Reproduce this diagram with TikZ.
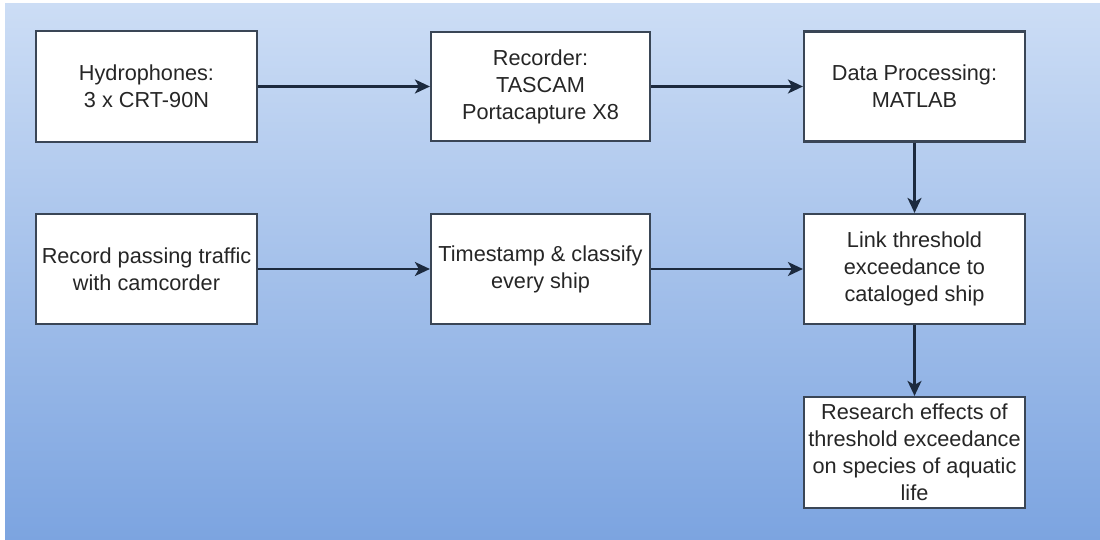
\documentclass[tikz,border=0pt]{standalone}
\usepackage{fontspec}
\setmainfont{Liberation Sans}
\usetikzlibrary{arrows.meta}
\definecolor{bgtop}{HTML}{CCDDF5}
\definecolor{bgbot}{HTML}{7CA4E0}
\definecolor{boxline}{HTML}{3A4656}
\definecolor{arrowc}{HTML}{1C2A3E}
\tikzset{
  stepbox/.style={draw=boxline, line width=2.2pt, fill=white, inner sep=0pt,
    align=center, font=\fontsize{21.7}{27}\selectfont, text=black!85},
  conn/.style={draw=arrowc, line width=2.2pt, -{Stealth[length=15pt,width=14pt,inset=4pt]}}
}
\begin{document}
\begin{tikzpicture}[x=1pt,y=-1pt]
\useasboundingbox[fill=white] (0,0) rectangle (1100,540);
\shade[top color=bgtop, bottom color=bgbot] (5,4) rectangle (1100,540);
\node[stepbox, minimum width=221pt, minimum height=111pt] (hyd) at (146.5,86.5) {Hydrophones:\\3 x CRT-90N};
\node[stepbox, minimum width=219pt, minimum height=109pt] (rec) at (540.5,86.5) {Recorder:\\TASCAM\\Portacapture X8};
\node[stepbox, minimum width=221pt, minimum height=110pt] (dat) at (914.5,86.5) {Data Processing:\\MATLAB};
\node[stepbox, minimum width=221pt, minimum height=110pt] (cam) at (146.5,269) {Record passing traffic\\with camcorder};
\node[stepbox, minimum width=219pt, minimum height=110pt] (tim) at (540.5,269) {Timestamp \& classify\\every ship};
\node[stepbox, minimum width=221pt, minimum height=110pt] (lnk) at (914.5,269) {Link threshold\\exceedance to\\cataloged ship};
\node[stepbox, minimum width=221pt, minimum height=111pt] (res) at (914.5,452.5) {Research effects of\\threshold exceedance\\on species of aquatic\\life};
\draw[conn] (hyd) -- (rec);
\draw[conn] (rec) -- (dat);
\draw[conn] (dat) -- (lnk);
\draw[conn] (cam) -- (tim);
\draw[conn] (tim) -- (lnk);
\draw[conn] (lnk) -- (res);
\end{tikzpicture}
\end{document}
